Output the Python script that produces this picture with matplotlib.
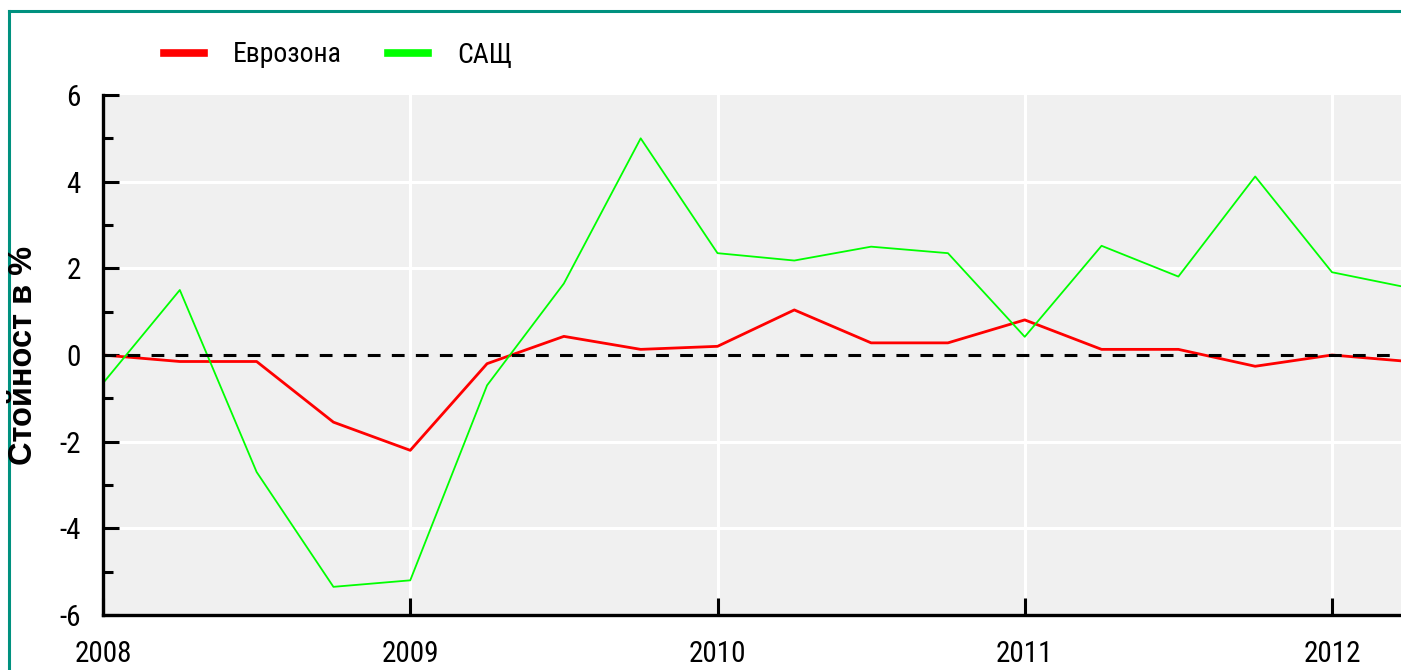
import matplotlib
matplotlib.use("Agg")
import matplotlib.pyplot as plt
from matplotlib.lines import Line2D
from matplotlib.ticker import MultipleLocator, FixedLocator

# ---- data (quarterly) ----
time = [2008.0, 2008.25, 2008.5, 2008.75,
        2009.0, 2009.25, 2009.5, 2009.75,
        2010.0, 2010.25, 2010.5, 2010.75,
        2011.0, 2011.25, 2011.5, 2011.75,
        2012.0, 2012.25]
eurozone = [0.0, -0.15, -0.15, -1.55,
            -2.2, -0.2, 0.43, 0.13,
            0.2, 1.04, 0.28, 0.28,
            0.81, 0.13, 0.13, -0.26,
            0.0, -0.15]
usa = [-0.65, 1.5, -2.7, -5.35,
       -5.2, -0.7, 1.65, 5.0,
       2.35, 2.18, 2.5, 2.35,
       0.42, 2.52, 1.81, 4.12,
       1.91, 1.55]
series_names = ["Еврозона", "САЩ"]
year_ticks = [2008, 2009, 2010, 2011, 2012]
y_ticks = [-6, -4, -2, 0, 2, 4, 6]
y_label = "Стойност в %"

plt.rcParams['axes.unicode_minus'] = False
plt.rcParams['lines.scale_dashes'] = False
NARROW = ['Roboto Condensed', 'PT Sans Narrow', 'Sofia Sans Condensed',
          'Open Sans Condensed', 'DejaVu Sans']

W, H = 1401, 670
fig = plt.figure(figsize=(W / 100, H / 100), dpi=100)
fig.patch.set_facecolor('white')

left_px, right_px, top_px, bottom_px = 103, 1401, 95, 615
ax = fig.add_axes([left_px / W, 1 - bottom_px / H,
                   (right_px - left_px) / W, (bottom_px - top_px) / H])
ax.set_facecolor('#f0f0f0')

ax.set_xlim(2008, 2008 + (right_px - left_px) / 307.25)
ax.set_ylim(-6, 6)

# grid
ax.xaxis.set_major_locator(FixedLocator(year_ticks))
ax.yaxis.set_major_locator(FixedLocator(y_ticks))
ax.yaxis.set_minor_locator(MultipleLocator(1))
for yv in y_ticks:
    if yv not in (0, -6, 6):
        ax.axhline(yv, color='white', lw=2.2, zorder=1)
for xv in year_ticks[1:]:
    ax.axvline(xv, color='white', lw=2.2, zorder=1)

ax.plot(time, eurozone, color='#ff0000', lw=2.0, zorder=3, label=series_names[0])
ax.plot(time, usa, color='#00ff00', lw=1.3, zorder=3, label=series_names[1])
ax.axhline(0, color='black', lw=2.2, dashes=(9.2, 8.1), zorder=4)

# spines
for s in ('top', 'right'):
    ax.spines[s].set_visible(False)
for s in ('left', 'bottom'):
    ax.spines[s].set_linewidth(2.4)
    ax.spines[s].set_color('black')
    ax.spines[s].set_zorder(5)

ax.tick_params(axis='y', which='major', direction='in', length=11.5, width=2.2,
               pad=16, labelsize=21, colors='black')
ax.tick_params(axis='y', which='minor', direction='in', length=7.5, width=2.2)
ax.tick_params(axis='x', which='major', direction='in', length=12, width=2.2,
               pad=18, labelsize=21)
ax.set_xticklabels([str(y) for y in year_ticks], family=NARROW)
ax.set_yticklabels([str(v) for v in y_ticks], family=NARROW)

# y label
fig.text(24 / W, 1 - 355 / H, y_label, rotation=90, ha='center', va='center',
         fontsize=23.5, fontweight='bold', family=['Liberation Sans', 'DejaVu Sans'])

# legend
handles = [Line2D([], [], color='#ff0000', lw=5.5),
           Line2D([], [], color='#00ff00', lw=5.5)]
fig.legend(handles, series_names, loc='center left',
           bbox_to_anchor=(164 / W, 1 - 55 / H), ncol=2, frameon=False,
           prop={'family': NARROW, 'size': 20},
           handlelength=1.45, handletextpad=1.03, columnspacing=1.66,
           borderpad=0, borderaxespad=0)

# teal border
bc = '#00917f'
fig.add_artist(Line2D([8.7 / W, 8.7 / W], [-0.05, 1 - 11.3 / H],
                      transform=fig.transFigure, color=bc, lw=2.2,
                      solid_capstyle='projecting'))
fig.add_artist(Line2D([8.7 / W, 1.05], [1 - 11.3 / H, 1 - 11.3 / H],
                      transform=fig.transFigure, color=bc, lw=2.2,
                      solid_capstyle='projecting'))

fig.savefig('out.png', dpi=100)
